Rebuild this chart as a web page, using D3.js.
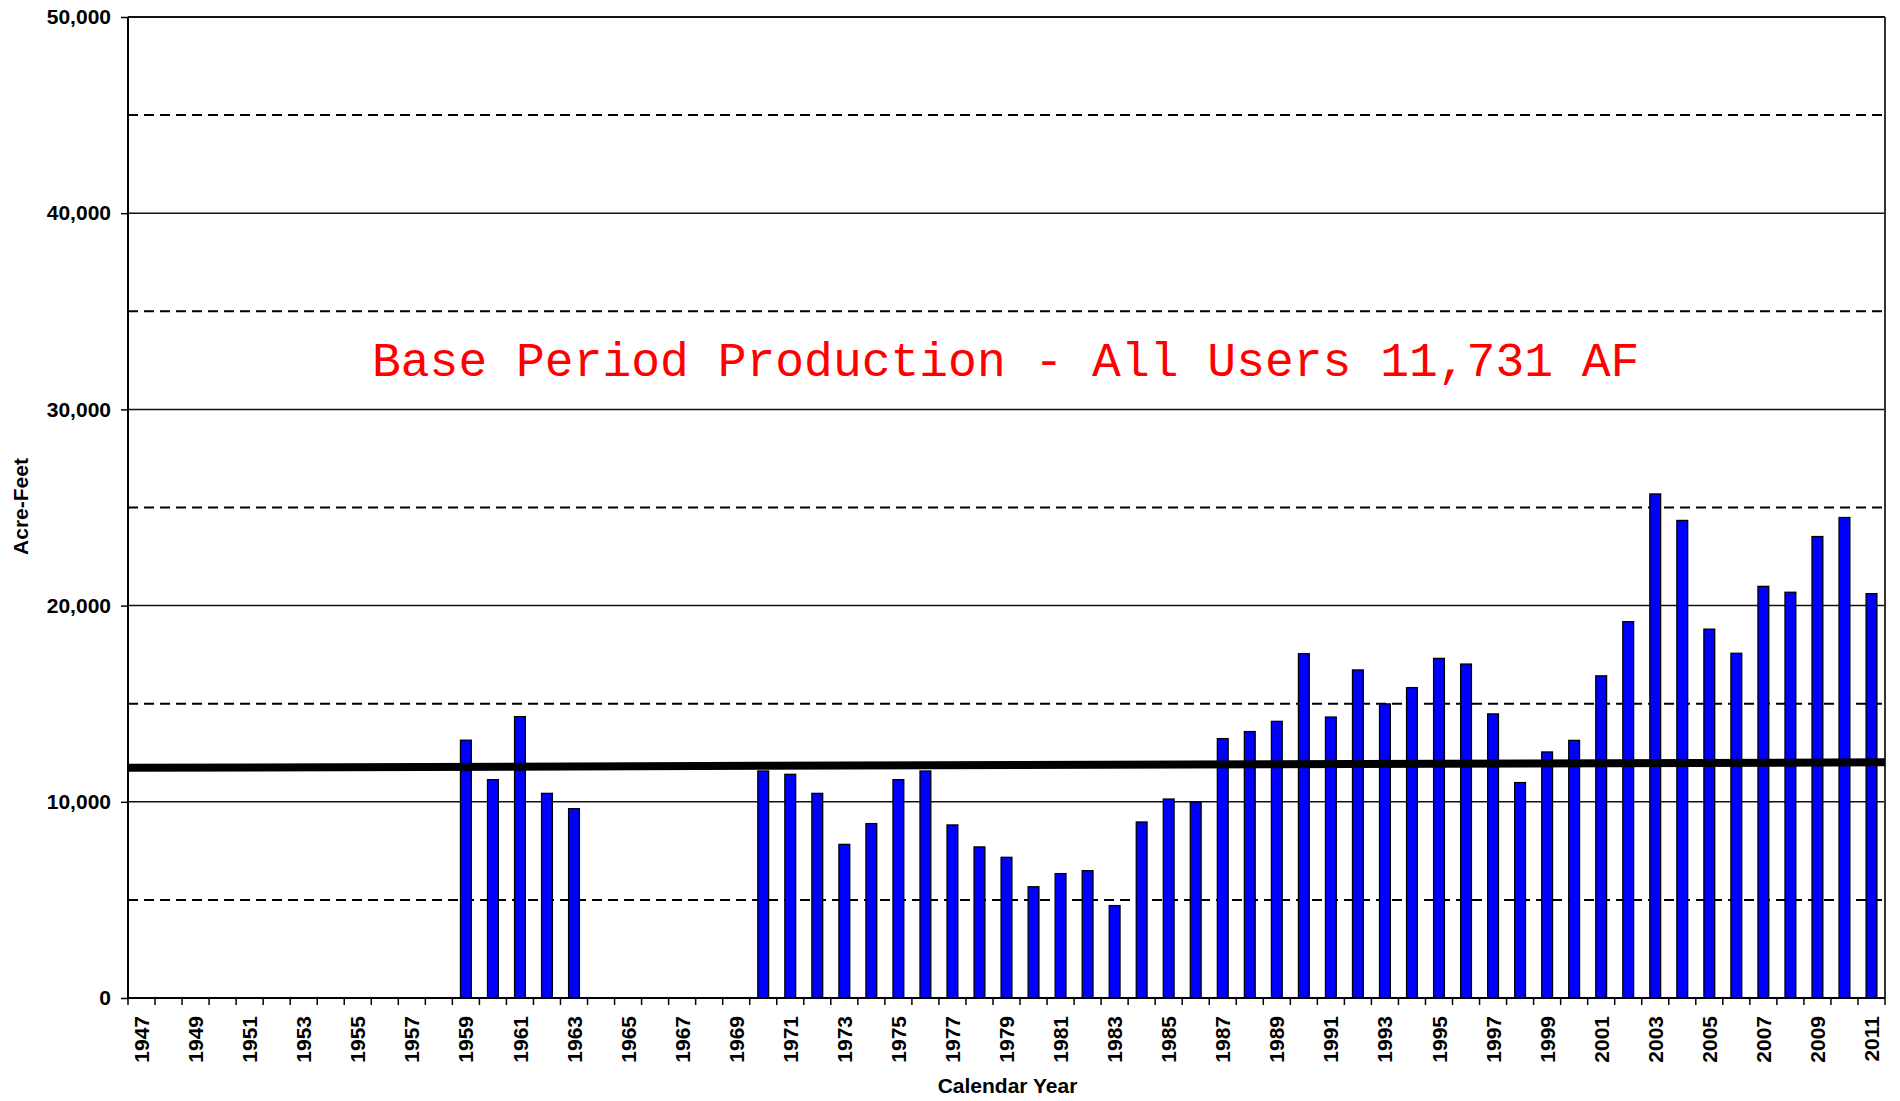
<!DOCTYPE html>
<html>
<head>
<meta charset="utf-8">
<script src="https://cdn.jsdelivr.net/npm/d3@7"></script>
<style>
  html, body { margin: 0; padding: 0; background: #ffffff; }
  svg { display: block; }
</style>
</head>
<body>
<svg id="chart" width="1900" height="1101"></svg>
<script>
// Calendar years on the category axis
const years = [
  1947, 1948, 1949, 1950, 1951, 1952, 1953, 1954, 1955, 1956, 1957, 1958,
  1959, 1960, 1961, 1962, 1963, 1964, 1965, 1966, 1967, 1968, 1969,
  1970, 1971, 1972, 1973, 1974, 1975, 1976, 1977, 1978, 1979,
  1980, 1981, 1982, 1983, 1984, 1985, 1986, 1987, 1988, 1989,
  1990, 1991, 1992, 1993, 1994, 1995, 1996, 1997, 1998, 1999,
  2000, 2001, 2002, 2003, 2004, 2005, 2006, 2007, 2008, 2009,
  2010, 2011
];

// Annual groundwater production, acre-feet (null = no record)
const production = [
  null, null, null, null, null, null, null, null, null, null, null, null,
  13140, 11130, 14340, 10430, 9650, null, null, null, null, null, null,
  11570, 11400, 10430, 7830, 8890, 11130, 11570, 8820, 7700, 7170,
  5670, 6340, 6490, 4710, 8970, 10140, 9990, 13220, 13580, 14100,
  17550, 14320, 16720, 14990, 15820, 17310, 17020, 14480, 10980, 12540,
  13130, 16420, 19180, 25690, 24340, 18800, 17570, 20980, 20680, 23520,
  24490, 20610
];

// Year labels shown on the axis (every other year)
const yearLabels = years.filter((y, i) => i % 2 === 0);

// Value axis ticks: solid major lines and dashed half-step lines
const majorTicks = [0, 10000, 20000, 30000, 40000, 50000];
const minorTicks = [5000, 15000, 25000, 35000, 45000];

// Base period production reference line (start and end values)
const baseLine = [11731, 12010];
const baseLabel = "Base Period Production - All Users 11,731 AF";

const width = 1900, height = 1101;
const margin = { top: 17, right: 15, bottom: 103, left: 128 };
const plotW = width - margin.left - margin.right;
const plotH = height - margin.top - margin.bottom;

const svg = d3.select("#chart");
const g = svg.append("g").attr("transform", `translate(${margin.left},${margin.top})`);

const x = d3.scaleBand().domain(years).range([0, plotW]).paddingInner(0).paddingOuter(0);
const y = d3.scaleLinear().domain([0, 50000]).range([plotH, 0]);

const barW = x.bandwidth() / 2.5;
const fontSans = "'Liberation Sans', Arial, Helvetica, sans-serif";

// Dashed half-step grid lines
g.append("g")
  .selectAll("line")
  .data(minorTicks)
  .join("line")
  .attr("x1", 0).attr("x2", plotW)
  .attr("y1", d => y(d)).attr("y2", d => y(d))
  .attr("stroke", "#000").attr("stroke-width", 2)
  .attr("stroke-dasharray", "10,6");

// Solid major grid lines
g.append("g")
  .selectAll("line")
  .data(majorTicks.filter(d => d > 0))
  .join("line")
  .attr("x1", 0).attr("x2", plotW)
  .attr("y1", d => y(d)).attr("y2", d => y(d))
  .attr("stroke", "#111").attr("stroke-width", d => d === 50000 ? 2 : 1.5);

// Right border of the plot area
g.append("line")
  .attr("x1", plotW).attr("x2", plotW)
  .attr("y1", 0).attr("y2", plotH)
  .attr("stroke", "#333").attr("stroke-width", 2);

// Production bars
const rows = years.map((yr, i) => ({ year: yr, value: production[i] })).filter(d => d.value != null);
g.append("g")
  .selectAll("rect")
  .data(rows)
  .join("rect")
  .attr("x", d => x(d.year) + (x.bandwidth() - barW) / 2)
  .attr("y", d => y(d.value))
  .attr("width", barW)
  .attr("height", d => plotH - y(d.value))
  .attr("fill", "#0000ff")
  .attr("stroke", "#000")
  .attr("stroke-width", 1.3);

// Base period reference line
g.append("line")
  .attr("x1", 0).attr("x2", plotW)
  .attr("y1", y(baseLine[0])).attr("y2", y(baseLine[1]))
  .attr("stroke", "#000").attr("stroke-width", 8);

// Value axis
const yAxis = g.append("g")
  .call(d3.axisLeft(y).tickValues(majorTicks).tickFormat(d3.format(",")).tickSize(7).tickPadding(10))
  .call(a => a.select(".domain").remove());
yAxis.selectAll("line").attr("stroke", "#000").attr("stroke-width", 1.5);
yAxis.selectAll("text")
  .attr("font-family", fontSans).attr("font-size", 21).attr("font-weight", "bold").attr("fill", "#000");

g.append("line")
  .attr("x1", 0).attr("x2", 0).attr("y1", 0).attr("y2", plotH)
  .attr("stroke", "#000").attr("stroke-width", 2);

// Category axis: boundary ticks between years
const bounds = years.map(d => x(d)).concat([plotW]);
g.append("g")
  .selectAll("line")
  .data(bounds)
  .join("line")
  .attr("x1", d => d).attr("x2", d => d)
  .attr("y1", plotH).attr("y2", plotH + 7)
  .attr("stroke", "#000").attr("stroke-width", 1.5);

g.append("line")
  .attr("x1", 0).attr("x2", plotW).attr("y1", plotH).attr("y2", plotH)
  .attr("stroke", "#000").attr("stroke-width", 2);

const xAxis = g.append("g")
  .attr("transform", `translate(0,${plotH})`)
  .call(d3.axisBottom(x).tickValues(yearLabels).tickSize(0).tickFormat(d3.format("d")))
  .call(a => a.select(".domain").remove());
xAxis.selectAll("text")
  .attr("transform", "rotate(-90)")
  .attr("text-anchor", "end")
  .attr("x", -18).attr("y", 0).attr("dy", "0.36em")
  .attr("font-family", fontSans).attr("font-size", 21).attr("font-weight", "bold").attr("fill", "#000");

// Axis titles
svg.append("text")
  .attr("transform", `translate(21,${margin.top + plotH / 2 - 1}) rotate(-90)`)
  .attr("text-anchor", "middle").attr("dy", "0.35em")
  .attr("font-family", fontSans).attr("font-size", 21).attr("font-weight", "bold")
  .text("Acre-Feet");

svg.append("text")
  .attr("x", margin.left + plotW / 2 + 1).attr("y", 1093)
  .attr("text-anchor", "middle")
  .attr("font-family", fontSans).attr("font-size", 21).attr("font-weight", "bold")
  .text("Calendar Year");

// Base period annotation
g.append("text")
  .attr("x", 244).attr("y", 359)
  .attr("font-family", "'Liberation Mono', 'Courier New', monospace")
  .attr("font-size", 48)
  .attr("fill", "#ff0000")
  .text(baseLabel);
</script>
</body>
</html>
